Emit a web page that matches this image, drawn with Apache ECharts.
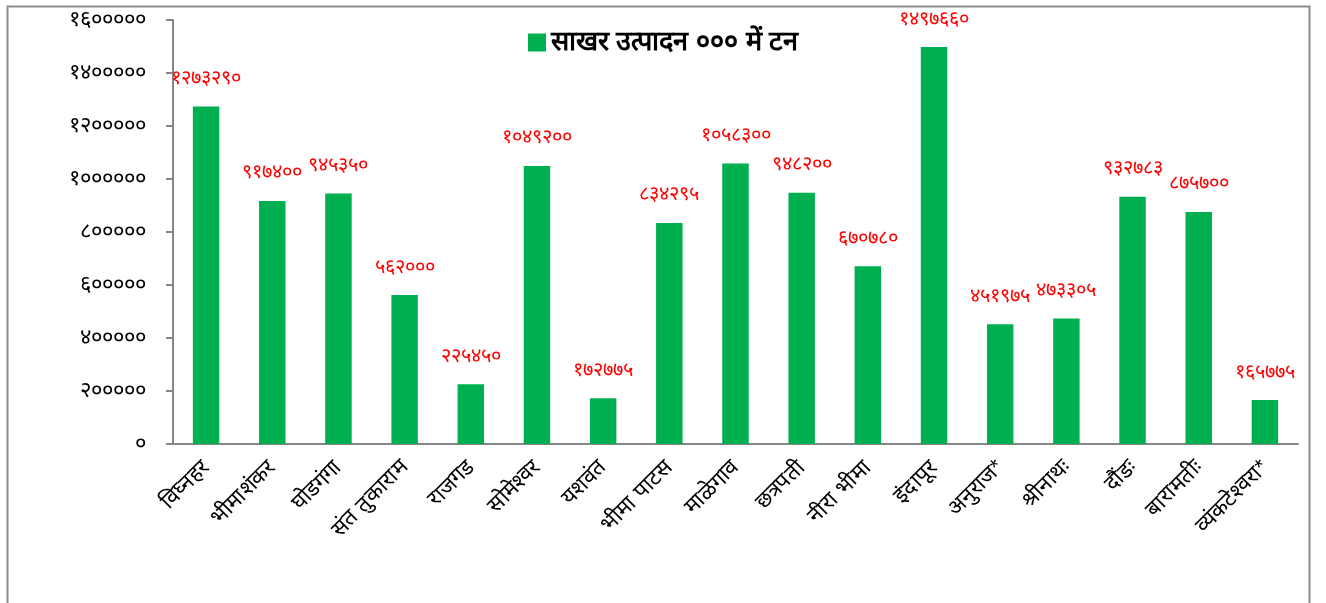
<!DOCTYPE html>
<html>
<head>
    <meta charset="utf-8">
    <script src="https://cdn.jsdelivr.net/npm/echarts@6/dist/echarts.min.js"></script>
    <style>
        html, body { margin: 0; padding: 0; background: #fff; }
    </style>
</head>
<body>
    <div id="main" style="width: 1326px;height:603px;"></div>
    <script type="text/javascript">

    var seriesName = 'साखर उत्पादन ००० में टन';
    var factories = ['विघ्नहर', 'भीमाशंकर', 'घोडगंगा', 'संत तुकाराम', 'राजगड', 'सोमेश्वर', 'यशवंत',
        'भीमा पाटस', 'माळेगाव', 'छत्रपती', 'नीरा भीमा', 'इंदापूर', 'अनुराज*', 'श्रीनाथः',
        'दौंडः', 'बारामतीः', 'व्यंकटेश्वरा*'];
    var production = [1273290, 917400, 945350, 562000, 225450, 1049200, 172775,
        834295, 1058300, 948200, 670780, 1497660, 451975, 473305,
        932783, 875700, 165775];
    var yMin = 0, yMax = 1600000, yStep = 200000;

    // devanagari digits for all numbers
    var devDigits = ['०', '१', '२', '३', '४', '५', '६', '७', '८', '९'];
    function toDev(n) {
        return String(n).replace(/[0-9]/g, function (d) { return devDigits[+d]; });
    }

    var myChart = echarts.init(document.getElementById('main'));

    myChart.setOption({
        animation: false,
        graphic: [{
            type: 'rect',
            left: 5,
            top: 4,
            shape: { width: 1302, height: 640 },
            style: { fill: 'none', stroke: '#8c8c8c', lineWidth: 2 },
            silent: true
        }],
        legend: {
            top: 24,
            left: 'center',
            itemWidth: 18,
            itemHeight: 18,
            itemGap: 6,
            icon: 'rect',
            textStyle: { fontSize: 27, fontWeight: 'bold', color: '#000' },
            data: [seriesName]
        },
        grid: {
            left: 173,
            right: 28,
            top: 20,
            bottom: 159,
            containLabel: false
        },
        xAxis: {
            type: 'category',
            data: factories,
            axisLine: { lineStyle: { color: '#868686', width: 2 } },
            axisTick: { length: 7, lineStyle: { color: '#868686', width: 2 } },
            axisLabel: {
                rotate: 45,
                interval: 0,
                margin: 20,
                fontSize: 22,
                color: '#000'
            }
        },
        yAxis: {
            type: 'value',
            min: yMin,
            max: yMax,
            interval: yStep,
            splitLine: { show: false },
            axisLine: { show: true, lineStyle: { color: '#868686', width: 2 } },
            axisTick: { show: true, length: 7, lineStyle: { color: '#868686', width: 2 } },
            axisLabel: {
                margin: 27,
                fontSize: 22,
                color: '#000',
                formatter: function (v) { return toDev(v); }
            }
        },
        series: [{
            name: seriesName,
            type: 'bar',
            data: production,
            barWidth: '40%',
            itemStyle: { color: '#00b050' },
            label: {
                show: true,
                position: 'top',
                distance: 18,
                color: '#ff0000',
                fontSize: 20,
                formatter: function (p) { return toDev(p.value); }
            }
        }]
    });
</script>
</body>
</html>
